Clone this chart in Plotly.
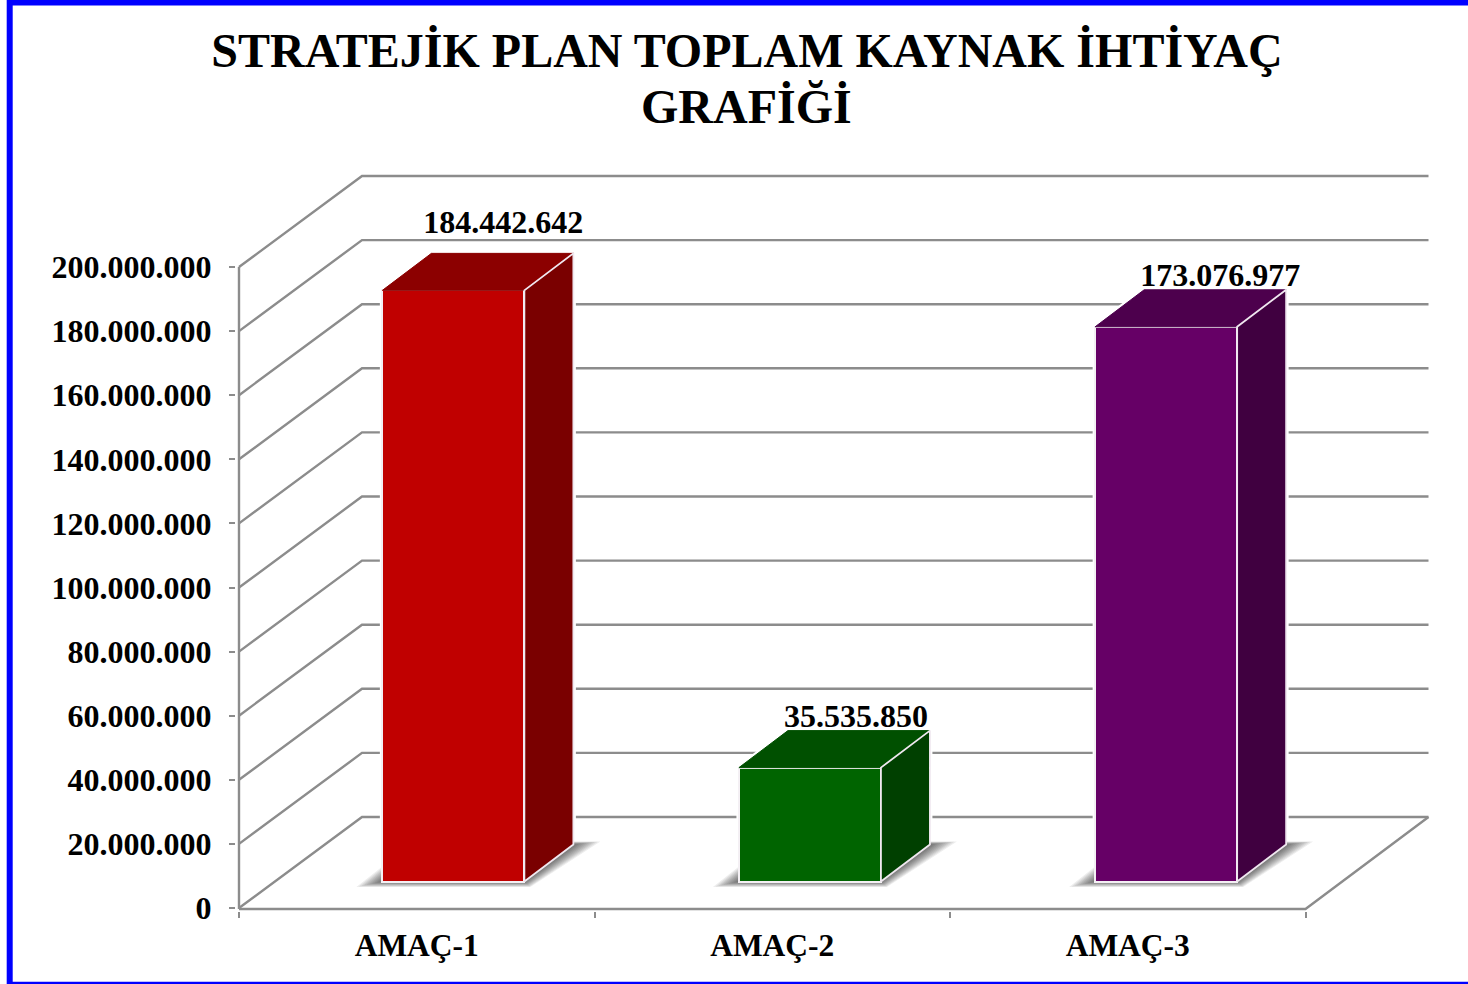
import plotly.graph_objects as go

categories = ["AMAÇ-1", "AMAÇ-2", "AMAÇ-3"]
values = [184442642, 35535850, 173076977]
value_labels = ["184.442.642", "35.535.850", "173.076.977"]
y_ticks = [0, 20000000, 40000000, 60000000, 80000000, 100000000,
           120000000, 140000000, 160000000, 180000000, 200000000]
y_tick_labels = ["0", "20.000.000", "40.000.000", "60.000.000", "80.000.000", "100.000.000",
                 "120.000.000", "140.000.000", "160.000.000", "180.000.000", "200.000.000"]
front_colors = ["#C00000", "#006400", "#660066"]
side_colors = ["#7A0000", "#004000", "#400040"]
top_colors = ["#8C0000", "#005000", "#4D004D"]

W, H = 1468, 984
ORIGIN_X, ORIGIN_Y = 239, 908   # where x=0 and value=0 fall on the page
PAD = 3                         # room left of and below the origin, so edge lines are not clipped
PX_L, PX_R, PX_T, PX_B = ORIGIN_X - PAD, 1432, 165, ORIGIN_Y + PAD
UX = 355.5                 # px per category
UY = 641 / 200000000       # px per value unit
xu = lambda px: px / UX
yu = lambda px: px / UY

WALL_DX, WALL_DY = xu(123), yu(91)
BAR_DX, BAR_DY = xu(49), yu(37)
BAR_W = 142 / UX
BAR_BASE = yu(26.5)
centers = [0.603, 1.606, 2.608]
GRID = "#8C8C8C"

shapes = []
def poly(points, **kw):
    path = "M " + " L ".join(f"{x},{y}" for x, y in points) + " Z"
    shapes.append(dict(type="path", path=path, xref="x", yref="y", layer="below", **kw))

# walls and floor
for v in y_ticks:
    shapes.append(dict(type="path", xref="x", yref="y", layer="below",
                       path=f"M 0,{v} L {WALL_DX},{v + WALL_DY} L {3 + WALL_DX},{v + WALL_DY}",
                       line=dict(color=GRID, width=2.4)))
shapes.append(dict(type="path", xref="x", yref="y", layer="below",
                   path=f"M 0,{-yu(1)} L 3,{-yu(1)} L {3 + WALL_DX},{WALL_DY}", line=dict(color=GRID, width=2.4)))
shapes.append(dict(type="line", xref="x", yref="y", layer="below", x0=0, x1=0, y0=-yu(1), y1=y_ticks[-1],
                   line=dict(color=GRID, width=2.4)))

# white halo that interrupts the grid around each bar
for c, v in zip(centers, values):
    x0, x1 = c - BAR_W / 2, c + BAR_W / 2
    t = BAR_BASE + v
    poly([(x0, BAR_BASE), (x1, BAR_BASE), (x1 + BAR_DX, BAR_BASE + BAR_DY),
          (x1 + BAR_DX, t + BAR_DY), (x0 + BAR_DX, t + BAR_DY), (x0, t)],
         fillcolor="white", line=dict(color="white", width=5))

# soft floor shadows
for c in centers:
    x0, y0 = c - BAR_W / 2, BAR_BASE
    x1 = c + BAR_W / 2
    inner = [(x0, y0), (x1, y0), (x1 + BAR_DX, y0 + BAR_DY), (x1 + BAR_DX, y0 + BAR_DY),
             (x1, y0), (x0, y0), (x0, y0)]
    outer = [(x0 - xu(26), y0 - yu(5.5)), (x1 + xu(6), y0 - yu(5.5)), (x1 + xu(76), y0 + yu(40)),
             (x1 + BAR_DX, y0 + yu(40)), (x1, y0), (x0, y0), (x0, y0 + yu(15))]
    for t in [1.0, 0.9, 0.8, 0.7, 0.6, 0.5, 0.4, 0.3, 0.2, 0.1]:
        pts = [(a[0] + (b[0] - a[0]) * t, a[1] + (b[1] - a[1]) * t) for a, b in zip(inner, outer)]
        poly(pts, fillcolor="rgba(0,0,0,0.07)", line=dict(width=0))

# page frame
pxx = lambda px: (px - PX_L) / (PX_R - PX_L)
pxy = lambda py: (PX_B - py) / (PX_B - PX_T)
shapes.append(dict(type="rect", xref="paper", yref="paper",
                   x0=pxx(9.7), x1=pxx(1480), y0=pxy(984.7), y1=pxy(2.6),
                   line=dict(color="#0000FF", width=6), fillcolor="rgba(0,0,0,0)", layer="above"))

fig = go.Figure()

fig.add_trace(go.Bar(x=centers, y=values, base=[BAR_BASE] * 3, width=BAR_W,
                     marker=dict(color=front_colors, line=dict(color="#F4F0F4", width=2)),
                     showlegend=False, hoverinfo="skip"))

for c, v, side, top in zip(centers, values, side_colors, top_colors):
    x0, x1 = c - BAR_W / 2, c + BAR_W / 2
    t = BAR_BASE + v
    fig.add_trace(go.Scatter(x=[x0, x1, x1 + BAR_DX, x0 + BAR_DX, x0], y=[t, t, t + BAR_DY, t + BAR_DY, t],
                             mode="lines", fill="toself", fillcolor=top, line=dict(color=top, width=1),
                             showlegend=False, hoverinfo="skip", cliponaxis=False))
    fig.add_trace(go.Scatter(x=[x1, x1 + BAR_DX, x1 + BAR_DX, x1, x1],
                             y=[BAR_BASE, BAR_BASE + BAR_DY, t + BAR_DY, t, BAR_BASE],
                             mode="lines", fill="toself", fillcolor=side, line=dict(color="#F0E8F0", width=1.8),
                             showlegend=False, hoverinfo="skip", cliponaxis=False))

# value labels
label_dx = [xu(50), xu(46), xu(54)]
label_dy = [yu(49), yu(33), yu(33)]
fig.add_trace(go.Scatter(
    x=[c + d for c, d in zip(centers, label_dx)],
    y=[BAR_BASE + v + d for v, d in zip(values, label_dy)],
    mode="text", text=[f"<b>{t}</b>" for t in value_labels], textposition="top center",
    textfont=dict(family="Liberation Serif", size=32, color="black"),
    showlegend=False, hoverinfo="skip", cliponaxis=False))

fig.update_layout(
    width=W, height=H,
    margin=dict(l=PX_L, r=W - PX_R, t=PX_T, b=H - PX_B),
    paper_bgcolor="white", plot_bgcolor="rgba(0,0,0,0)",
    font=dict(family="Liberation Serif", color="black"),
    bargap=0, shapes=shapes,
    title=dict(text="<b>STRATEJİK PLAN TOPLAM KAYNAK İHTİYAÇ</b>",
               font=dict(family="Liberation Serif", size=48, color="black"),
               x=747 / W, xanchor="center", y=1 - 50 / H, yanchor="middle"),
    annotations=[dict(text="<b>GRAFİĞİ</b>", xref="paper", yref="paper", showarrow=False,
                      x=pxx(746.5), y=pxy(106.5), xanchor="center", yanchor="middle",
                      font=dict(family="Liberation Serif", size=48, color="black"))],
    xaxis=dict(range=[-xu(PAD), (PX_R - ORIGIN_X) / UX], tickmode="array", tickvals=[0.5, 1.5, 2.5],
               ticktext=[f"<b>{c}</b>" for c in categories],
               ticks="", ticklabelstandoff=12, showgrid=False, zeroline=False, showline=False,
               tickfont=dict(family="Liberation Serif", size=31.5, color="black"),
               minor=dict(tickmode="array", tickvals=[0, 1, 2, 3], ticks="outside", ticklen=6, tickwidth=2,
                          tickcolor=GRID, showgrid=False)),
    yaxis=dict(range=[-yu(PAD), (ORIGIN_Y - PX_T) / UY], tickmode="array", tickvals=y_ticks,
               ticktext=[f"<b>{t}</b>" for t in y_tick_labels],
               ticks="outside", ticklen=6, tickwidth=2, tickcolor=GRID, ticklabelstandoff=11,
               showgrid=False, zeroline=False, showline=False,
               tickfont=dict(family="Liberation Serif", size=32, color="black")),
)

fig.write_html("out.html", config={"displayModeBar": False},
               post_script="document.body.style.margin='0';document.documentElement.style.overflow='hidden';")
